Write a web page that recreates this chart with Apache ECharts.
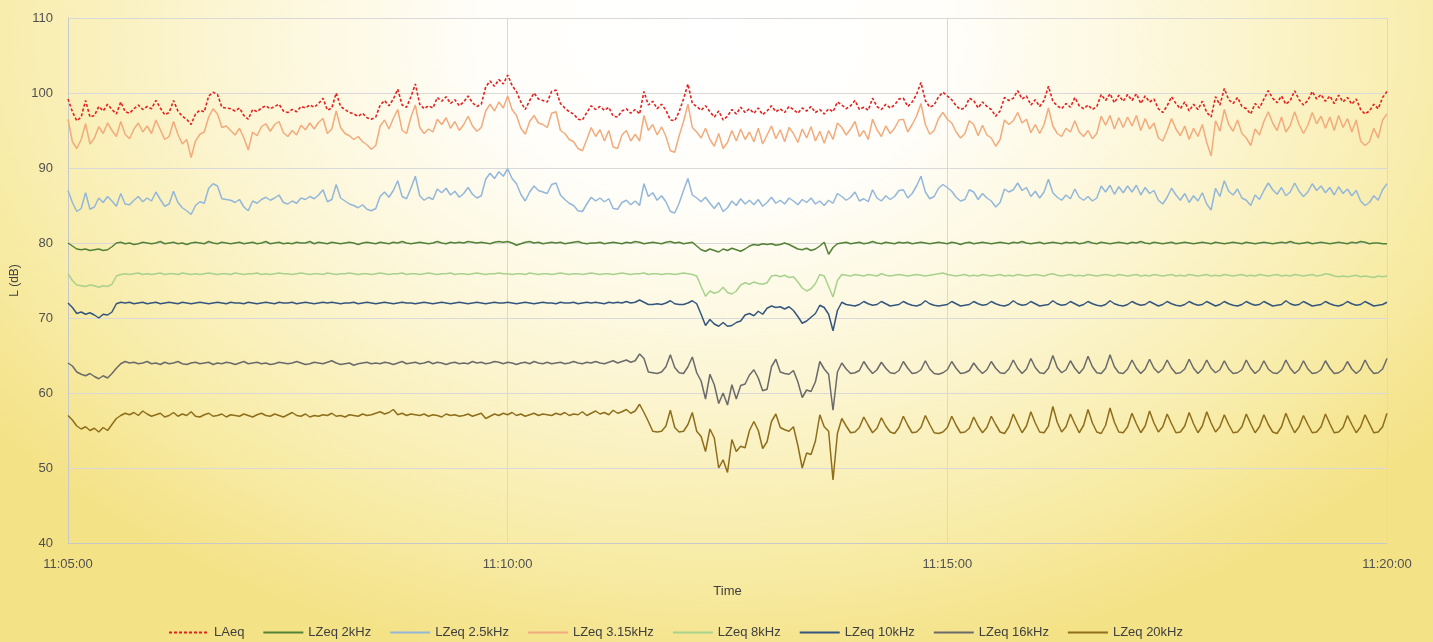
<!DOCTYPE html>
<html>
<head>
<meta charset="utf-8">
<script src="https://cdn.jsdelivr.net/npm/echarts@6/dist/echarts.min.js"></script>
<style>
html,body{margin:0;padding:0;width:1433px;height:642px;overflow:hidden;}
body{background:radial-gradient(ellipse 64% 100% at 50% 6%, #ffffff 0%, #fffefa 25%, #fcf6d6 52%, #f8eca9 80%, #f4e286 100%);}
#chart{width:1433px;height:642px;}
</style>
</head>
<body>
<div id="chart"></div>
<script>
// time axis: seconds after 11:05:00, one sample every 3 s
const SAMPLE_STEP_S = 3;
const X_TICK_LABELS = ['11:05:00', '11:10:00', '11:15:00', '11:20:00'];
const SERIES_NAMES = ['LAeq', 'LZeq 2kHz', 'LZeq 2.5kHz', 'LZeq 3.15kHz', 'LZeq 8kHz', 'LZeq 10kHz', 'LZeq 16kHz', 'LZeq 20kHz'];

const LAeq = [
99.2,97.5,96.3,96.8,99.0,96.8,97.0,98.2,97.6,98.5,
97.8,97.2,98.8,97.5,97.3,97.9,98.4,97.8,98.2,97.9,
99.0,98.0,97.1,97.4,99.0,97.6,96.9,96.5,95.8,97.2,
97.7,97.5,99.6,100.1,99.8,98.1,98.0,97.9,97.6,98.0,
97.0,96.5,97.8,97.5,98.0,98.3,97.9,98.2,98.5,97.6,
97.4,97.8,97.5,98.2,98.0,98.4,98.1,98.6,99.3,97.7,
98.0,100.0,98.2,97.8,97.4,97.2,96.9,97.3,96.7,96.5,
96.8,98.4,99.0,98.3,99.2,100.5,98.4,98.1,99.5,101.2,
98.5,97.9,98.3,98.0,99.4,98.9,99.5,98.6,99.1,98.3,
98.8,99.6,98.7,98.2,98.5,100.8,101.6,100.9,101.8,101.2,
102.4,101.0,100.2,98.8,97.8,99.0,100.0,99.2,99.0,98.8,
100.2,100.4,98.6,98.0,97.5,97.2,96.5,96.4,97.4,98.3,
97.8,98.2,97.7,98.1,96.9,96.8,97.6,97.9,97.3,97.8,
97.2,100.2,98.4,98.9,97.9,98.5,97.7,96.4,96.3,97.5,
99.2,101.2,98.6,98.2,97.7,98.3,97.5,96.8,97.6,96.4,
96.9,97.8,97.2,98.1,97.4,97.9,97.3,98.0,97.1,97.6,
98.3,97.5,97.9,97.4,98.2,97.8,97.3,98.0,97.6,98.2,
97.4,97.8,97.2,97.9,97.5,98.8,98.4,97.9,98.3,99.0,
97.8,98.1,97.7,99.3,98.2,97.8,98.5,98.0,98.4,99.2,
99.3,98.2,98.8,99.8,101.4,99.0,98.1,98.4,99.5,100.1,
99.6,99.1,98.3,97.8,98.0,99.3,99.0,98.0,98.8,98.2,
97.8,96.9,97.6,99.4,99.0,99.3,100.3,99.2,99.6,98.4,
99.1,98.2,99.0,100.9,98.9,98.3,97.9,98.6,98.1,99.4,
98.3,97.9,98.4,97.8,98.2,99.8,99.0,99.9,98.7,99.7,
98.9,99.8,99.0,99.9,98.6,99.6,98.8,99.2,97.9,97.4,
98.3,99.5,98.6,97.9,98.8,97.6,98.5,97.8,98.9,97.4,
96.8,99.5,98.4,100.6,99.1,98.6,99.4,98.2,97.9,97.2,
98.6,98.0,99.2,100.3,99.3,98.7,99.6,98.5,99.0,100.3,
99.1,98.4,99.0,100.2,99.2,99.8,98.9,99.6,98.6,99.7,
98.8,99.4,98.5,99.2,97.8,97.2,97.6,98.5,97.9,99.4,
100.2];

const LZeq2k = [
80.0,79.6,79.2,79.1,79.2,79.0,79.1,79.2,79.0,79.1,
79.5,80.0,80.1,79.9,80.0,79.8,79.9,80.1,80.0,79.9,
80.0,80.2,79.9,80.0,80.1,79.9,80.0,79.8,80.0,80.1,
80.0,79.9,80.2,80.0,79.9,80.1,80.0,79.9,80.0,80.1,
79.9,80.0,80.1,79.9,80.0,80.2,79.9,80.0,80.1,79.9,
80.0,79.9,80.1,80.0,80.0,80.2,79.9,80.1,80.0,79.9,
80.1,80.0,79.9,80.0,80.1,80.0,79.8,80.0,80.1,80.0,
79.9,80.1,80.0,79.9,80.1,80.0,80.2,80.0,79.9,80.0,
80.1,80.0,79.9,80.0,80.2,80.0,79.9,80.1,80.0,80.1,
80.0,80.2,80.1,80.0,80.1,80.0,79.9,80.1,80.2,80.1,
80.2,80.0,79.7,79.9,80.1,80.2,80.0,80.1,79.9,80.0,
80.1,80.0,80.1,79.9,80.0,80.1,80.2,80.0,79.9,80.0,
80.0,80.1,79.9,80.0,80.1,80.0,79.9,80.1,80.0,80.2,
80.1,79.9,80.0,80.1,80.0,79.9,80.1,80.2,80.0,80.1,
79.9,80.0,80.1,79.6,79.1,78.9,79.2,79.0,78.8,79.2,
79.0,79.3,79.1,78.9,79.2,79.6,79.8,79.7,79.9,79.8,
79.9,79.7,79.8,80.0,79.8,79.5,79.2,79.1,79.3,79.0,
79.2,79.6,80.1,78.5,79.4,79.9,80.0,80.1,79.9,80.0,
80.1,79.9,80.0,80.2,80.0,79.9,80.1,80.0,79.9,80.1,
80.0,80.1,79.9,80.0,80.1,80.0,79.9,80.0,80.1,80.0,
79.9,80.1,80.0,79.8,80.0,80.1,79.9,80.0,80.1,80.0,
79.9,80.0,80.1,80.0,79.9,80.1,80.0,80.2,80.0,79.9,
80.0,80.1,79.9,80.0,80.1,80.0,79.9,80.1,80.0,80.1,
79.9,80.0,80.2,80.0,79.9,80.1,80.0,79.9,80.0,80.1,
80.0,79.9,80.1,80.0,80.2,80.0,79.9,80.1,80.0,79.9,
80.0,80.1,79.9,80.0,80.1,80.0,79.9,80.0,80.1,80.0,
79.9,80.1,80.0,79.9,80.0,80.1,80.0,79.9,80.1,80.0,
79.9,80.0,80.1,80.0,79.9,80.0,80.1,80.0,80.2,80.0,
79.9,80.0,80.1,79.9,80.0,80.1,80.0,79.9,80.0,80.1,
80.0,79.9,80.1,80.0,80.2,80.1,79.9,80.0,80.0,79.9,
79.9];

const LZeq2_5k = [
87.0,85.4,84.2,84.6,86.7,84.5,84.8,86.0,85.4,86.2,
85.6,84.9,86.6,85.2,85.1,85.7,86.2,85.5,86.0,85.6,
86.8,85.8,84.9,85.2,86.9,85.4,84.7,84.3,83.8,85.0,
85.5,85.3,87.3,87.9,87.6,85.9,85.8,85.7,85.4,85.8,
84.8,84.3,85.6,85.3,85.8,86.1,85.7,86.0,86.4,85.4,
85.2,85.6,85.3,86.0,85.8,86.2,85.9,86.4,87.1,85.5,
85.8,87.8,86.0,85.6,85.2,85.0,84.7,85.1,84.5,84.3,
84.6,86.2,86.8,86.1,87.0,88.3,86.2,85.9,87.3,88.9,
86.3,85.7,86.1,85.8,87.2,86.7,87.3,86.4,86.9,86.1,
86.6,87.4,86.5,86.0,86.3,88.5,89.3,88.6,89.5,88.9,
89.9,88.6,87.9,86.5,85.6,86.8,87.6,87.0,86.8,86.6,
87.8,88.0,86.4,85.8,85.3,85.0,84.3,84.2,85.2,86.1,
85.6,86.0,85.5,85.9,84.6,84.5,85.4,85.7,85.1,85.6,
85.0,87.9,86.2,86.7,85.7,86.3,85.5,84.2,84.0,85.3,
87.0,88.6,86.4,86.0,85.5,86.1,85.3,84.6,85.4,84.2,
84.7,85.6,85.0,85.9,85.2,85.7,85.1,85.8,84.9,85.4,
86.1,85.3,85.7,85.2,86.0,85.6,85.1,85.8,85.4,86.0,
85.2,85.6,85.0,85.7,85.3,86.6,86.2,85.7,86.1,86.8,
85.6,85.9,85.5,87.1,86.0,85.6,86.3,85.8,86.2,87.0,
87.1,86.0,86.6,87.6,88.9,86.8,85.9,86.2,87.3,87.8,
87.4,86.9,86.1,85.6,85.8,87.1,86.8,85.8,86.6,86.0,
85.6,84.8,85.4,87.2,86.8,87.1,88.0,87.0,87.4,86.2,
86.9,86.0,86.8,88.5,86.7,86.1,85.7,86.4,85.9,87.2,
86.1,85.7,86.2,85.6,86.0,87.6,86.8,87.7,86.5,87.5,
86.7,87.6,86.8,87.7,86.4,87.4,86.6,87.0,85.7,85.2,
86.1,87.3,86.4,85.7,86.6,85.4,86.3,85.6,86.7,85.2,
84.4,87.3,86.2,88.3,86.9,86.4,87.2,86.0,85.7,85.0,
86.4,85.8,87.0,88.0,87.1,86.5,87.4,86.3,86.8,88.0,
86.9,86.2,86.8,87.9,87.0,87.6,86.7,87.4,86.4,87.5,
86.6,87.2,86.3,87.0,85.6,85.0,85.4,86.3,85.7,87.1,
87.9];

const LZeq3_15k = [
96.5,93.5,92.6,93.8,95.9,93.2,94.0,95.5,94.6,96.0,
95.0,94.2,96.2,94.5,93.9,95.2,96.0,94.8,95.6,94.6,
96.4,95.1,93.8,94.2,96.2,94.5,93.2,93.8,91.4,93.6,
94.5,94.8,96.8,97.9,97.2,95.4,95.6,95.0,94.4,95.3,
94.0,92.4,94.8,94.3,95.5,95.9,94.9,95.8,96.2,94.7,
94.2,95.0,94.4,95.7,95.1,96.0,95.2,96.1,96.6,94.6,
95.2,97.6,95.4,94.6,94.3,93.8,94.2,93.5,93.1,92.5,
93.0,95.6,96.4,95.2,96.6,97.8,95.0,94.6,96.8,98.4,
95.4,94.6,95.2,94.8,96.5,95.8,96.7,95.3,96.2,95.0,
95.8,96.9,95.6,94.9,95.4,97.6,98.5,97.6,98.8,98.0,
99.6,97.8,97.0,95.3,94.5,96.2,97.0,96.0,95.8,95.4,
97.3,97.5,95.0,94.6,93.8,93.5,92.6,92.3,93.8,95.4,
94.2,95.1,93.6,95.0,92.8,92.6,94.4,95.0,93.6,94.5,
93.6,97.0,95.0,95.8,94.4,95.5,94.2,92.3,92.1,94.3,
96.2,98.5,95.4,94.8,94.0,95.3,93.8,92.9,94.6,92.6,
93.4,95.0,93.6,95.2,93.8,94.8,93.5,95.3,93.2,94.4,
95.6,93.9,95.1,93.5,95.4,94.6,93.4,95.2,94.0,95.5,
93.6,94.9,93.3,95.0,93.8,96.0,95.4,94.4,95.2,96.2,
94.2,95.0,93.8,96.5,95.1,94.2,95.6,94.6,95.3,96.4,
96.5,94.8,95.8,96.9,98.6,95.8,94.5,95.0,96.6,97.4,
96.5,96.0,94.8,94.0,94.6,96.3,95.8,94.3,95.7,94.4,
94.0,92.9,93.8,96.4,95.8,96.3,97.4,96.0,96.5,94.7,
95.8,94.6,95.8,98.0,95.6,94.6,94.2,95.3,94.8,96.3,
94.8,94.2,95.0,93.9,94.6,96.9,95.7,97.0,95.2,96.7,
95.4,96.8,95.6,97.0,95.0,96.6,95.2,96.0,94.0,93.6,
95.0,96.6,95.2,94.3,95.6,93.8,95.3,94.2,95.8,93.4,
91.6,96.3,94.9,97.8,95.8,94.9,96.4,94.6,94.0,93.0,
95.2,94.4,96.2,97.5,96.0,95.0,96.8,94.8,95.7,97.5,
95.8,94.6,95.7,97.4,95.9,96.9,95.3,96.8,95.0,97.0,
95.4,96.6,94.8,96.4,93.6,93.0,93.5,95.3,94.0,96.4,
97.2];

const LZeq8k = [
75.9,75.0,74.4,74.3,74.2,74.4,74.3,74.1,74.3,74.2,
74.5,75.6,75.8,75.9,75.8,75.9,76.0,75.8,75.9,75.8,
75.9,76.0,75.8,75.9,75.9,75.8,76.0,75.9,75.8,75.9,
75.8,75.9,76.0,75.9,75.8,75.9,75.9,75.8,76.0,75.9,
75.8,75.9,75.9,76.0,75.8,75.9,75.8,75.9,76.0,75.9,
75.9,75.8,75.9,76.0,75.9,75.8,75.9,75.9,75.8,76.0,
75.9,75.8,75.9,75.9,76.0,75.9,75.8,75.9,75.9,75.8,
75.9,76.0,75.9,75.8,75.9,75.9,76.0,75.8,75.9,75.9,
75.8,75.9,76.0,75.9,75.8,75.9,75.9,76.0,75.8,75.9,
75.9,75.8,75.9,76.0,75.9,75.8,75.9,75.9,76.0,75.9,
75.9,75.8,75.9,75.9,75.8,76.0,75.9,75.8,75.9,75.9,
75.8,75.9,76.0,75.9,75.8,75.9,75.9,75.8,75.9,76.0,
75.9,75.8,75.9,75.9,75.8,75.9,76.0,75.9,75.8,75.9,
75.9,76.0,75.8,75.9,75.9,75.8,75.9,75.9,75.8,75.9,
76.0,75.9,75.8,75.6,74.2,72.9,73.6,73.3,73.5,74.1,
73.4,73.2,73.6,74.4,74.7,74.5,74.8,74.6,74.5,74.7,
75.6,75.7,75.5,75.7,75.4,75.5,74.8,74.0,73.6,73.9,
74.6,75.8,75.6,74.2,72.8,75.0,75.8,75.7,75.6,75.8,
75.7,75.6,75.8,75.7,75.6,75.9,75.7,75.6,75.7,75.8,
75.7,75.6,75.7,75.8,75.7,75.6,75.7,75.8,75.9,76.0,
75.8,75.7,75.6,75.7,75.8,75.6,75.7,75.6,75.8,75.7,
75.6,75.7,75.8,75.6,75.7,75.6,75.8,75.7,75.6,75.7,
75.8,75.7,75.6,75.8,75.9,75.7,75.6,75.7,75.8,75.6,
75.7,75.6,75.8,75.7,75.6,75.7,75.8,75.7,75.6,75.8,
75.7,75.6,75.7,75.8,75.6,75.7,75.6,75.8,75.7,75.6,
75.7,75.8,75.6,75.7,75.6,75.8,75.7,75.6,75.7,75.8,
75.6,75.7,75.6,75.8,75.7,75.6,75.7,75.8,75.6,75.7,
75.6,75.8,75.7,75.6,75.7,75.8,75.6,75.7,75.6,75.8,
75.7,75.6,75.7,75.8,75.6,75.7,75.9,75.8,75.6,75.5,
75.6,75.5,75.6,75.7,75.5,75.6,75.5,75.4,75.6,75.5,
75.6];

const LZeq10k = [
72.0,71.4,70.6,70.8,70.5,70.7,70.4,70.0,70.5,70.4,
70.8,71.9,72.1,72.0,72.1,71.9,72.0,72.1,71.9,72.0,
72.1,71.9,72.0,72.1,72.0,71.9,72.1,72.0,71.9,72.0,
72.1,72.0,71.9,72.0,72.1,72.0,71.9,72.1,72.0,72.0,
71.9,72.1,72.0,71.9,72.0,72.1,72.0,71.9,72.1,72.0,
72.0,72.1,71.9,72.0,72.1,72.0,71.9,72.0,72.1,72.0,
72.1,72.0,71.9,72.0,72.0,72.1,71.9,72.0,72.1,72.0,
71.9,72.0,72.1,72.0,71.9,72.0,72.1,72.0,72.0,71.9,
72.0,72.1,72.0,71.9,72.0,72.1,72.0,71.9,72.0,72.1,
72.0,71.9,72.0,72.1,72.0,71.9,72.0,72.1,72.0,72.0,
72.1,72.0,71.9,72.0,72.1,72.0,71.9,72.0,72.1,72.0,
72.0,71.9,72.1,72.0,72.0,72.1,71.9,72.0,72.1,72.0,
72.1,72.0,71.9,72.1,72.0,72.1,72.0,72.2,72.0,72.1,
72.4,72.1,71.8,71.8,71.9,71.8,72.0,72.3,71.9,71.8,
71.8,72.0,72.3,71.9,70.5,69.0,69.8,69.2,68.9,69.4,
68.9,69.0,69.4,69.6,70.4,70.6,70.3,70.9,70.5,71.3,
71.6,71.4,71.5,71.2,71.5,71.0,70.2,69.3,69.6,70.1,
70.6,71.7,71.4,70.5,68.3,71.0,72.1,71.8,71.7,71.6,
71.8,72.2,71.9,71.7,71.8,72.2,71.9,71.6,71.7,71.8,
72.2,71.9,71.7,71.6,71.8,72.3,71.9,71.7,71.6,71.7,
71.8,72.2,71.9,71.6,71.7,71.8,72.2,71.9,71.7,71.8,
72.2,71.9,71.7,71.6,71.8,72.3,71.9,71.7,71.8,72.2,
71.9,71.6,71.7,71.8,72.3,71.9,71.7,71.8,72.2,71.9,
71.6,71.8,72.2,71.9,71.7,71.6,71.8,72.3,71.9,71.7,
71.6,71.8,72.2,71.9,71.7,71.8,72.2,71.9,71.6,71.8,
72.2,71.9,71.7,71.6,71.8,72.2,71.9,71.7,71.8,72.2,
71.9,71.6,71.8,72.2,71.9,71.7,71.6,71.8,72.2,71.9,
71.7,71.8,72.2,71.9,71.6,71.7,71.8,72.3,71.9,71.7,
71.8,72.2,71.9,71.6,71.7,71.8,72.2,71.9,71.7,71.6,
71.8,72.2,71.9,71.7,71.8,72.2,71.9,71.6,71.7,71.8,
72.1];

const LZeq16k = [
64.0,63.6,62.8,62.5,62.3,62.6,62.2,61.9,62.3,62.0,
62.6,63.3,63.9,64.2,64.0,64.1,63.9,64.0,64.2,63.9,
64.0,63.8,64.1,63.9,64.0,64.2,63.9,63.8,64.0,64.1,
63.9,64.0,64.1,63.8,64.0,63.9,64.1,64.0,63.8,64.0,
64.2,63.9,64.0,64.1,63.9,64.0,63.8,63.9,64.1,64.0,
63.9,64.0,64.2,64.0,63.8,63.9,64.1,64.0,63.9,64.1,
64.3,64.0,63.8,63.9,64.0,63.7,63.9,64.0,64.1,63.9,
64.0,63.9,64.1,64.0,63.8,64.0,64.2,63.9,64.0,64.1,
63.9,64.0,64.2,63.9,64.1,64.0,63.8,64.0,64.1,63.9,
64.0,63.9,64.2,64.0,64.1,63.9,64.0,64.2,64.1,63.9,
64.1,64.0,63.8,64.0,64.1,63.9,64.2,64.0,63.9,64.1,
63.9,64.0,64.1,63.9,64.0,64.2,64.0,63.9,64.1,64.0,
64.2,64.0,63.9,64.1,64.3,64.0,64.2,64.4,64.1,64.3,
65.2,64.6,62.8,62.7,62.6,62.8,63.5,65.1,63.4,62.7,
62.6,63.5,64.8,62.7,61.6,59.2,62.5,61.1,58.6,60.0,
58.4,61.1,59.2,61.0,61.2,62.4,63.1,62.0,60.3,60.5,
63.5,64.5,62.8,62.6,62.5,63.0,61.5,59.4,60.4,60.2,
61.5,64.2,63.2,62.5,57.7,62.8,64.0,63.2,62.6,62.7,
63.0,64.2,63.3,62.6,63.1,64.1,63.3,62.7,62.6,63.0,
64.2,63.3,62.6,62.7,63.1,64.3,63.2,62.6,62.5,62.7,
63.1,64.2,63.3,62.6,62.7,63.0,64.0,63.2,62.6,63.1,
64.2,63.3,62.7,62.6,63.2,64.4,63.3,62.6,63.2,64.6,
63.4,62.7,62.6,63.3,65.0,63.4,62.7,63.1,64.3,63.3,
62.6,63.3,64.9,63.5,62.7,62.6,63.3,65.1,63.5,62.7,
62.6,63.2,64.4,63.3,62.6,63.2,64.5,63.3,62.7,63.2,
64.4,63.3,62.6,62.7,63.2,64.5,63.3,62.6,63.2,64.4,
63.3,62.7,63.1,64.3,63.2,62.6,62.7,63.1,64.4,63.3,
62.6,63.1,64.3,63.2,62.7,62.6,63.1,64.4,63.3,62.6,
63.1,64.3,63.2,62.6,62.7,63.1,64.3,63.3,62.6,62.7,
63.1,64.2,63.2,62.6,63.1,64.4,63.3,62.6,62.7,63.2,
64.6];

const LZeq20k = [
57.0,56.4,55.6,55.2,55.5,55.0,55.3,54.8,55.4,55.0,
55.8,56.6,57.0,57.3,57.1,57.4,57.0,57.6,57.2,56.9,
57.1,57.3,56.8,57.0,57.4,56.9,57.2,57.0,57.5,56.9,
56.8,57.1,57.3,56.9,57.0,57.2,56.8,57.1,57.0,56.9,
57.2,57.0,56.8,57.1,57.3,57.0,56.9,57.2,57.0,56.8,
57.1,57.4,57.0,56.9,57.2,56.8,57.0,56.9,57.1,57.0,
57.3,56.9,57.0,56.8,57.1,57.0,56.9,57.2,57.0,57.1,
57.3,57.5,57.2,57.4,57.8,57.1,57.3,57.0,57.2,57.1,
57.0,57.2,56.9,57.1,57.0,56.8,57.2,57.0,57.1,56.9,
57.0,57.2,56.9,57.1,57.3,56.6,56.9,57.2,57.0,57.3,
57.1,57.4,57.0,57.2,56.9,57.1,57.3,57.0,57.2,57.1,
57.0,57.3,57.1,57.4,57.0,57.2,57.1,57.5,57.0,57.3,
57.6,57.2,57.4,57.1,57.7,57.3,57.5,57.8,57.3,57.6,
58.5,57.4,56.2,54.9,54.8,54.9,55.6,57.7,55.4,54.8,
54.9,55.8,57.4,54.9,54.2,52.2,55.2,54.0,50.0,51.1,
49.4,53.8,52.2,52.9,52.7,55.0,56.2,55.0,52.6,53.5,
56.2,57.2,55.4,55.1,54.9,55.5,53.0,50.0,52.0,51.8,
53.6,57.1,55.5,54.9,48.4,54.6,56.6,55.6,54.7,54.8,
55.4,56.8,55.7,54.7,55.3,56.7,55.6,54.8,54.6,55.4,
56.9,55.7,54.7,54.8,55.4,57.0,55.8,54.7,54.6,54.8,
55.4,56.9,55.7,54.7,54.8,55.3,56.8,55.6,54.7,55.4,
56.9,55.8,54.8,54.6,55.5,57.2,55.9,54.7,55.6,57.5,
56.0,54.8,54.7,55.6,58.2,56.1,54.8,55.5,57.2,55.9,
54.7,55.7,57.8,56.0,54.8,54.6,55.7,58.0,56.1,54.8,
54.7,55.5,57.3,55.9,54.7,55.6,57.6,56.0,54.8,55.5,
57.2,55.9,54.7,54.8,55.6,57.4,55.9,54.7,55.6,57.5,
56.0,54.8,55.5,57.1,55.8,54.7,54.8,55.5,57.2,55.9,
54.7,55.5,57.1,55.8,54.8,54.6,55.5,57.3,55.9,54.7,
55.5,57.0,55.8,54.7,54.8,55.5,57.2,55.9,54.7,54.8,
55.4,57.0,55.8,54.7,55.5,57.1,55.9,54.7,54.8,55.5,
57.3];

const SERIES_VALUES = [LAeq, LZeq2k, LZeq2_5k, LZeq3_15k, LZeq8k, LZeq10k, LZeq16k, LZeq20k];
const SERIES_COLORS = ['#e3211f', '#538135', '#93b7da', '#f2ab7c', '#a9d18e', '#34567e', '#6a6a6a', '#8e6d1b'];

const FONT = "'Liberation Sans', 'DejaVu Sans', sans-serif";
const chart = echarts.init(document.getElementById('chart'), null, {renderer: 'canvas'});

const series = SERIES_NAMES.map((name, k) => ({
  name: name,
  type: 'line',
  symbol: 'none',
  smooth: false,
  animation: false,
  data: SERIES_VALUES[k].map((v, i) => [i * SAMPLE_STEP_S, v]),
  lineStyle: {
    color: SERIES_COLORS[k],
    width: k === 0 ? 1.6 : 1.5,
    type: k === 0 ? [3, 2] : 'solid'
  },
  itemStyle: {color: SERIES_COLORS[k]},
  z: k === 0 ? 10 : 2
}));

chart.setOption({
  backgroundColor: 'transparent',
  animation: false,
  textStyle: {fontFamily: FONT},
  grid: {left: 68, right: 46, top: 18, bottom: 99, containLabel: false},
  xAxis: {
    type: 'value',
    min: 0,
    max: 900,
    interval: 300,
    name: 'Time',
    nameLocation: 'middle',
    nameGap: 42,
    nameTextStyle: {color: '#404040', fontSize: 13, fontFamily: FONT},
    axisLine: {show: true, lineStyle: {color: '#c8c8c8', width: 1}},
    axisTick: {show: false},
    axisLabel: {
      color: '#505050', fontSize: 13, margin: 15, fontFamily: FONT,
      formatter: v => X_TICK_LABELS[Math.round(v / 300)]
    },
    splitLine: {show: true, lineStyle: {color: '#d9d9d9', width: 1}}
  },
  yAxis: {
    type: 'value',
    min: 40,
    max: 110,
    interval: 10,
    name: 'L (dB)',
    nameLocation: 'middle',
    nameGap: 45,
    nameRotate: 90,
    nameTextStyle: {color: '#404040', fontSize: 12, fontFamily: FONT},
    axisLine: {show: true, lineStyle: {color: '#c8c8c8', width: 1}},
    axisTick: {show: false},
    axisLabel: {color: '#505050', fontSize: 13, margin: 15, fontFamily: FONT},
    splitLine: {show: true, lineStyle: {color: '#d9d9d9', width: 1}}
  },
  legend: {
    data: SERIES_NAMES,
    left: 163,
    top: 621,
    itemWidth: 40,
    itemHeight: 14,
    itemGap: 18,
    itemStyle: {opacity: 0},
    textStyle: {color: '#404040', fontSize: 13, fontFamily: FONT}
  },
  series: series
});
</script>
</body>
</html>
